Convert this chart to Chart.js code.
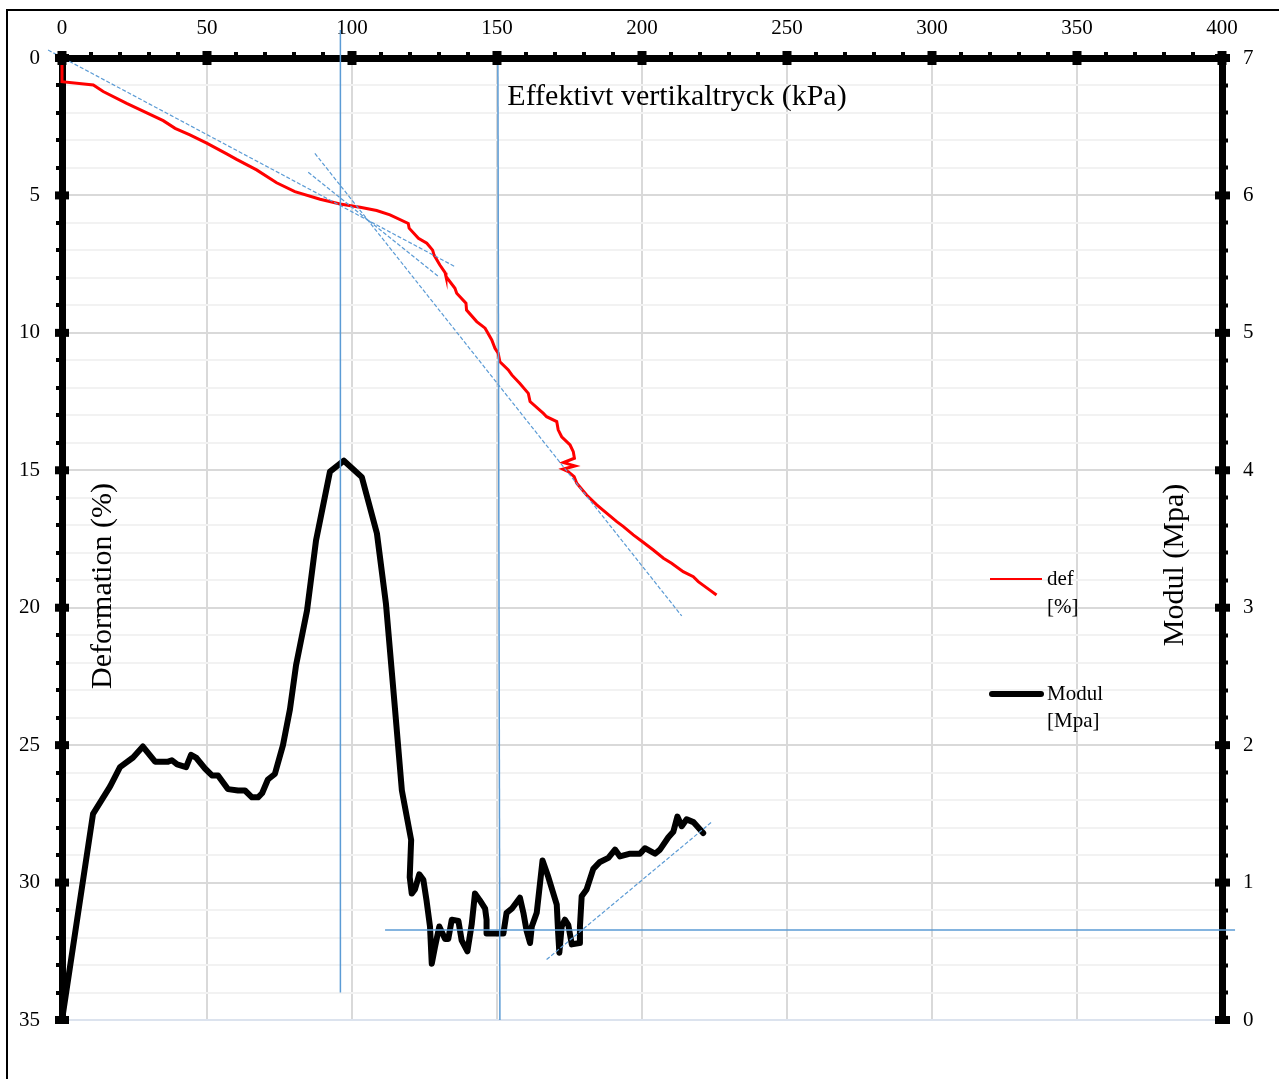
<!DOCTYPE html>
<html>
<head>
<meta charset="utf-8">
<script src="https://cdn.jsdelivr.net/npm/chart.js@4.4.1/dist/chart.umd.min.js"></script>
<style>
  html, body { margin: 0; padding: 0; background: #fff; }
</style>
</head>
<body>
<canvas id="chart" width="1279" height="1079"></canvas>
<script>

// def [%] against effective vertical pressure (kPa)
const defKpa = [0, 0, 10.8, 14.2, 22.3, 34.9, 39, 44.1, 49.9, 56.8, 60.2, 67.1, 74, 80.3, 89, 95.9,
  102.8, 108.5, 113.1, 119.4, 119.7, 122.9, 125.8, 127.8, 128.3, 130.3, 132.1, 132.4, 135.5, 136.1,
  139.3, 139.5, 143, 145.9, 148.2, 149.3, 150.4, 151, 153.9, 155.1, 157.9, 160.8, 161.4, 166, 167.1,
  170.6, 171.1, 172.3, 175.2, 176.3, 176.7, 172.9, 176.9, 172.7, 174.6, 176.6, 177.5, 180.9, 184.4,
  187.8, 191.3, 193.6, 197, 200.4, 203.9, 207.4, 210.2, 214.2, 217.7, 219.4, 223.4, 225.7];
const defPct = [0, 0.86, 0.98, 1.22, 1.65, 2.28, 2.56, 2.8, 3.1, 3.49, 3.69, 4.07, 4.54, 4.86, 5.14, 5.31,
  5.43, 5.55, 5.71, 6.02, 6.19, 6.56, 6.74, 6.99, 7.17, 7.53, 7.81, 7.95, 8.38, 8.56,
  8.92, 9.17, 9.59, 9.83, 10.26, 10.56, 10.74, 11.05, 11.35, 11.53, 11.84, 12.2, 12.5, 12.93, 13.05,
  13.23, 13.53, 13.78, 14.08, 14.32, 14.56, 14.72, 14.84, 14.96, 15.05, 15.23, 15.47, 15.9, 16.26,
  16.56, 16.87, 17.05, 17.35, 17.62, 17.9, 18.2, 18.38, 18.69, 18.87, 19.05, 19.36, 19.54];

// Modul [Mpa]
const modKpa = [0, 10.7, 16.6, 20, 24.5, 27.9, 32.1, 36.6, 37.9, 39.7, 42.8, 44.5, 46.2, 49.3, 51.7,
  53.8, 57.2, 60.7, 63.1, 65.5, 67.6, 69, 71, 73.4, 76.2, 78.6, 80.7, 84.5, 87.6, 92.4, 97.2, 103.4,
  108.6, 111.7, 114.8, 117.2, 120.4, 119.9, 120.6, 121.7, 123.2, 124.6, 125.7, 126.9, 127.5, 128.6,
  130.1, 132.1, 133.2, 134.4, 136.7, 137.8, 139.8, 141.3, 142.4, 144.1, 145.9, 146.4, 146.4, 152.2,
  153.3, 155.1, 157.9, 159.1, 160.2, 161.4, 162, 163.7, 165.7, 167.7, 170.6, 171.1, 171.5, 172.3,
  173.4, 174.6, 175.8, 178.4, 178.6, 179.2, 180.9, 183.2, 185.5, 188.4, 190.7, 192.4, 195.9, 199.3,
  201, 204.5, 206.2, 209.1, 210.8, 212.2, 213.7, 215.4, 217.7, 221.1];
const modMpa = [0, 1.5, 1.7, 1.84, 1.91, 1.99, 1.88, 1.88, 1.89, 1.86, 1.84, 1.93, 1.91, 1.83, 1.78,
  1.78, 1.68, 1.67, 1.67, 1.62, 1.62, 1.65, 1.75, 1.79, 2.0, 2.26, 2.58, 2.98, 3.49, 3.99, 4.07, 3.95,
  3.54, 3.03, 2.27, 1.67, 1.31, 1.04, 0.92, 0.95, 1.06, 1.02, 0.87, 0.68, 0.41, 0.53,
  0.68, 0.59, 0.59, 0.73, 0.72, 0.58, 0.5, 0.7, 0.92, 0.87, 0.81, 0.73, 0.63, 0.63,
  0.78, 0.81, 0.89, 0.78, 0.65, 0.56, 0.68, 0.78, 1.16, 1.04, 0.84, 0.63, 0.49, 0.68,
  0.73, 0.69, 0.55, 0.56, 0.68, 0.9, 0.95, 1.1, 1.15, 1.18, 1.24, 1.19, 1.21, 1.21,
  1.25, 1.21, 1.24, 1.33, 1.37, 1.48, 1.41, 1.46, 1.44, 1.36];

// helper lines drawn on the sheet: [kPa, value] end points
const tangentA = [[-4.8, -0.29], [135.5, 7.59]];
const tangentB = [[87.2, 3.47], [213.7, 20.3]];
const tangentC = [[84.9, 4.16], [129.8, 7.95]];
const tangentMod = [[167.1, 0.44], [224, 1.44]];
const vertLine1 = [[96, -1.02], [96, 34.0]];
const vertLine2 = [[150.3, 0], [151, 35]];
const horizMod = [[111.4, 0.655], [404.5, 0.655]];

const xTickLabels = [0, 50, 100, 150, 200, 250, 300, 350, 400];
const yTickLabels = [0, 5, 10, 15, 20, 25, 30, 35];
const y2TickLabels = [0, 1, 2, 3, 4, 5, 6, 7];

const serif = "'Liberation Serif', 'DejaVu Serif', serif";
const blue = '#5b9bd5';

function pts(xs, ys) {
  return xs.map(function(x, i){ return {x: x, y: ys[i]} })
}
function seg(arr) {
  return arr.map(function(p){ return {x: p[0], y: p[1]} })
}
function isLabel(list, v) {
  return list.some(function(l){ return Math.abs(l - v) < 1e-6 })
}

function guide(data, axis, dashed) {
  return {
    data: seg(data),
    yAxisID: axis,
    showLine: true,
    borderColor: blue,
    borderWidth: dashed ? 1.2 : 1.5,
    borderDash: dashed ? [4, 2] : [],
    pointRadius: 0,
    clip: false
  }
}

const decor = {
  id: 'decor',
  beforeDraw(chart) {
    const c = chart.ctx;
    c.save();
    c.fillStyle = '#fff';
    c.fillRect(0, 0, chart.width, chart.height);
    c.strokeStyle = '#000';
    c.lineWidth = 2;
    c.strokeRect(7, 10, chart.width + 20, chart.height + 20);
    c.restore();
  },
  afterDraw(chart) {
    const c = chart.ctx;
    const a = chart.chartArea;
    const sx = chart.scales.x, sy = chart.scales.y, sy2 = chart.scales.y2;
    c.save();
    c.fillStyle = '#000';

    // square markers on the major ticks
    xTickLabels.forEach(function(v){
      const p = sx.getPixelForValue(v);
      c.fillRect(p - 4.5, a.top - 7, 9, 14);
    })
    yTickLabels.forEach(function(v){
      const p = sy.getPixelForValue(v);
      c.fillRect(a.left - 7, p - 4, 14, 8);
    })
    y2TickLabels.forEach(function(v){
      const p = sy2.getPixelForValue(v);
      c.fillRect(a.right - 7, p - 4, 15, 8);
    })

    // axis titles
    c.font = '30px ' + serif;
    c.textAlign = 'center';
    c.textBaseline = 'middle';
    c.fillText('Effektivt vertikaltryck (kPa)', 677, 97);

    c.save();
    c.translate(103, 586);
    c.rotate(-Math.PI / 2);
    c.fillText('Deformation (%)', 0, 0);
    c.restore();

    c.save();
    c.translate(1175, 565);
    c.rotate(-Math.PI / 2);
    c.fillText('Modul (Mpa)', 0, 0);
    c.restore();

    // legend
    c.lineCap = 'butt';
    c.strokeStyle = '#ff0000';
    c.lineWidth = 2;
    c.beginPath(); c.moveTo(990, 579); c.lineTo(1042, 579); c.stroke();
    c.lineCap = 'round';
    c.strokeStyle = '#000';
    c.lineWidth = 6;
    c.beginPath(); c.moveTo(992, 694); c.lineTo(1041, 694); c.stroke();

    c.font = '21px ' + serif;
    c.textAlign = 'left';
    c.fillText('def', 1047, 579);
    c.fillText('[%]', 1047, 607);
    c.fillText('Modul', 1047, 694);
    c.fillText('[Mpa]', 1047, 721);
    c.restore();
  }
};

const ctx = document.getElementById('chart').getContext('2d');

new Chart(ctx, {
  type: 'scatter',
  data: {
    datasets: [
      guide(vertLine1, 'y', false),
      guide(vertLine2, 'y', false),
      guide(horizMod, 'y2', false),
      guide(tangentA, 'y', true),
      guide(tangentB, 'y', true),
      guide(tangentC, 'y', true),
      guide(tangentMod, 'y2', true),
      {
        label: 'def [%]',
        data: pts(defKpa, defPct),
        yAxisID: 'y',
        showLine: true,
        borderColor: '#ff0000',
        borderWidth: 3,
        pointRadius: 0,
        clip: false
      },
      {
        label: 'Modul [Mpa]',
        data: pts(modKpa, modMpa),
        yAxisID: 'y2',
        showLine: true,
        borderColor: '#000',
        borderWidth: 6,
        borderCapStyle: 'round',
        borderJoinStyle: 'round',
        pointRadius: 0,
        clip: false
      }
    ]
  },
  options: {
    responsive: false,
    animation: false,
    devicePixelRatio: 1,
    layout: { padding: { left: 0, right: 0, top: 0, bottom: 59 } },
    plugins: {
      legend: { display: false },
      tooltip: { enabled: false }
    },
    scales: {
      x: {
        type: 'linear',
        position: 'top',
        min: 0,
        max: 400,
        afterFit: function(s){ s.height = 58 },
        ticks: {
          stepSize: 10,
          autoSkip: false,
          maxRotation: 0,
          padding: 11,
          color: '#000',
          font: { family: serif, size: 21 },
          callback: function(v){ return isLabel(xTickLabels, v) ? v : '' }
        },
        grid: {
          color: function(c){ return c.tick && c.tick.value % 50 === 0 ? '#d9d9d9' : 'rgba(0,0,0,0)' },
          lineWidth: 2,
          tickLength: 6,
          tickColor: '#000',
          tickWidth: 4
        },
        border: { color: '#000', width: 7 }
      },
      y: {
        type: 'linear',
        position: 'left',
        reverse: true,
        min: 0,
        max: 35,
        afterFit: function(s){ s.width = 62 },
        ticks: {
          stepSize: 1,
          autoSkip: false,
          padding: 16,
          color: '#000',
          font: { family: serif, size: 21 },
          callback: function(v){ return isLabel(yTickLabels, v) ? v : '' }
        },
        grid: {
          color: function(c){
            if (!c.tick) return '#f2f2f2';
            if (c.tick.value === 35) return '#dce3ee';
            return c.tick.value % 5 === 0 ? '#d9d9d9' : '#f2f2f2';
          },
          lineWidth: 2,
          tickLength: 6,
          tickColor: '#000',
          tickWidth: 4
        },
        border: { color: '#000', width: 7 }
      },
      y2: {
        type: 'linear',
        position: 'right',
        min: 0,
        max: 7,
        afterFit: function(s){ s.width = 57 },
        ticks: {
          stepSize: 0.2,
          autoSkip: false,
          padding: 15,
          color: '#000',
          font: { family: serif, size: 21 },
          callback: function(v){ return isLabel(y2TickLabels, v) ? Math.round(v) : '' }
        },
        grid: {
          drawOnChartArea: false,
          tickLength: 6,
          tickColor: '#000',
          tickWidth: 4
        },
        border: { color: '#000', width: 7 }
      }
    }
  },
  plugins: [decor]
});
</script>
</body>
</html>
